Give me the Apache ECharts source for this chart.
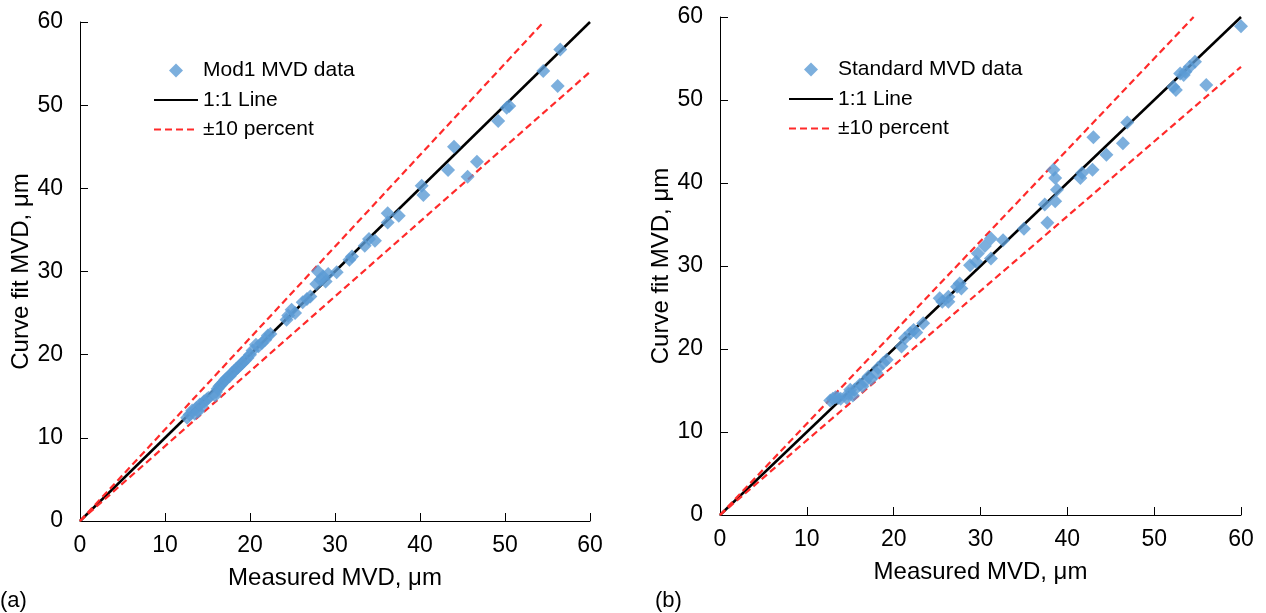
<!DOCTYPE html>
<html>
<head>
<meta charset="utf-8">
<script src="https://cdn.jsdelivr.net/npm/echarts@6/dist/echarts.min.js"></script>
<style>html,body{margin:0;padding:0;background:#fff}#c{width:1266px;height:613px}</style>
</head>
<body>
<div id="c"></div>
<script>
// ---- data ----
const xTicks = [0, 10, 20, 30, 40, 50, 60];
const axisMin = 0, axisMax = 60, axisStep = 10;
const xName = 'Measured MVD, μm';
const yName = 'Curve fit MVD, μm';
const panelLabels = ['(a)', '(b)'];
const seriesNameA = 'Mod1 MVD data';
const seriesNameB = 'Standard MVD data';
const lineName = '1:1 Line';
const bandName = '±10 percent';
const bandFactor = 0.10;

const mod1Data = [
  [12.6,12.4],[12.9,12.8],[13.2,13.3],[13.5,12.9],[13.7,13.6],[13.9,13.2],[14.1,14.0],[14.3,13.8],
  [14.6,14.4],[14.9,14.6],[15.1,14.8],[15.9,15.1],[16.0,15.5],[16.2,15.9],[16.4,16.2],[16.6,16.4],
  [16.9,16.7],[17.1,17.0],[17.3,17.2],[17.6,17.4],[17.9,17.8],[18.1,18.0],[18.4,18.3],[18.6,18.5],
  [18.9,18.8],[19.1,19.0],[19.4,19.3],[19.7,19.6],[20.0,20.0],[20.3,20.5],[20.7,21.2],[21.0,21.0],
  [21.4,21.4],[21.8,21.8],[22.1,22.3],[22.4,22.5],
  [24.3,24.2],[24.5,24.7],[24.9,25.4],[25.3,25.0],[26.2,26.3],[26.7,26.7],[27.1,27.0],[27.8,28.5],
  [28.0,30.0],[28.3,29.0],[28.6,29.4],[28.9,28.8],[29.2,29.7],[30.2,29.9],[31.7,31.4],[32.0,31.8],
  [33.5,33.1],[34.0,33.9],[34.7,33.7],[36.2,37.0],[36.2,35.9],[37.5,36.7],[40.2,40.3],[40.4,39.2],
  [43.3,42.2],[44.0,45.0],[45.6,41.4],[46.7,43.2],[49.2,48.1],[50.2,49.7],[50.5,49.9],[54.5,54.1],
  [56.2,52.3],[56.5,56.7]
];

const standardData = [
  [12.7,13.8],[13.0,14.0],[13.3,14.2],[13.6,14.1],[13.9,14.0],[14.6,14.1],[14.8,14.6],[15.0,15.1],
  [15.3,14.4],[15.5,15.1],[16.1,15.7],[16.4,15.5],[16.7,16.1],[17.1,16.7],[17.4,16.4],[18.0,17.1],
  [18.2,17.7],[18.8,18.3],[19.2,18.7],[20.9,20.3],[21.3,21.3],[21.9,21.9],[22.3,22.3],[22.6,22.0],
  [23.4,23.1],[25.3,26.1],[25.6,25.7],[26.3,26.3],[26.3,25.7],[27.3,27.5],[27.6,27.9],[27.8,27.3],
  [28.8,30.1],[29.5,30.5],[29.7,31.5],[30.5,32.4],[31.2,33.3],[31.2,30.9],[32.6,33.1],[35.0,34.5],
  [37.4,37.4],[37.7,35.2],[38.4,41.6],[38.6,40.6],[38.8,39.2],[38.6,37.8],[41.5,40.6],[41.7,41.2],
  [42.9,41.6],[43.0,45.5],[44.5,43.4],[46.4,44.8],[46.9,47.3],[52.2,51.6],[52.5,51.2],[53.0,53.2],
  [53.4,53.0],[53.6,53.4],[54.1,54.0],[54.7,54.6],[56.0,51.8],[60.0,58.9]
];

// ---- derived reference lines ----
const oneToOne = [[axisMin, axisMin], [axisMax, axisMax]];
const upperBand = [[axisMin, axisMin], [axisMax / (1 + bandFactor), axisMax]];
const lowerBand = [[axisMin, axisMin], [axisMax, axisMax * (1 - bandFactor)]];

const FONT = '"Liberation Sans", Arial, sans-serif';
const BLUE = '#5B9BD5';
const RED = '#FF2A2A';
const DIAMOND = 'path://M0,-1L1,0L0,1L-1,0Z';

function xAxisDef(i) {
  return {
    type: 'value', gridIndex: i, min: axisMin, max: axisMax, interval: axisStep,
    name: xName, nameLocation: 'middle', nameGap: 45,
    nameTextStyle: { fontSize: 24, color: '#000', fontFamily: FONT },
    axisLine: { show: true, onZero: false, lineStyle: { color: '#000', width: 1 } },
    axisTick: { show: true, inside: true, length: 8, lineStyle: { color: '#000', width: 1 } },
    axisLabel: { fontSize: 23, color: '#000', margin: 13, fontFamily: FONT,
      formatter: v => String(xTicks.includes(v) ? v : '') },
    splitLine: { show: false }
  };
}
function yAxisDef(i) {
  return {
    type: 'value', gridIndex: i, min: axisMin, max: axisMax, interval: axisStep,
    name: yName, nameLocation: 'middle', nameGap: 47,
    nameTextStyle: { fontSize: 24, color: '#000', fontFamily: FONT },
    axisLine: { show: true, onZero: false, lineStyle: { color: '#000', width: 1 } },
    axisTick: { show: true, inside: true, length: 8, lineStyle: { color: '#000', width: 1 } },
    axisLabel: { fontSize: 23, color: '#000', margin: 17, fontFamily: FONT },
    splitLine: { show: false }
  };
}
function panelSeries(i, name, data) {
  return [
    { name: lineName, type: 'line', xAxisIndex: i, yAxisIndex: i, data: oneToOne,
      symbol: 'none', silent: true, z: 2, lineStyle: { color: '#000', width: 2.5 }, itemStyle: { color: '#000' } },
    { name: bandName, type: 'line', xAxisIndex: i, yAxisIndex: i, data: upperBand,
      symbol: 'none', silent: true, z: 2, lineStyle: { color: RED, width: 2.2, type: [7, 4] }, itemStyle: { color: RED } },
    { name: bandName, type: 'line', xAxisIndex: i, yAxisIndex: i, data: lowerBand,
      symbol: 'none', silent: true, z: 2, lineStyle: { color: RED, width: 2.2, type: [7, 4] }, itemStyle: { color: RED } },
    { name: name, type: 'scatter', xAxisIndex: i, yAxisIndex: i, data: data,
      symbol: 'diamond', symbolSize: 14, z: 3, itemStyle: { color: BLUE } }
  ];
}
function legendDef(left, top, name) {
  return {
    orient: 'vertical', left: left, top: top, padding: 0,
    data: [
      { name: name, icon: DIAMOND },
      { name: lineName, itemStyle: { opacity: 0 } },
      { name: bandName, itemStyle: { opacity: 0 } }
    ],
    itemWidth: 44, itemHeight: 14, itemGap: 8.5, selectedMode: false, symbolKeepAspect: true,
    textStyle: { fontSize: 21, color: '#000', fontFamily: FONT }
  };
}

const chart = echarts.init(document.getElementById('c'), null, { renderer: 'canvas' });
chart.setOption({
  animation: false,
  backgroundColor: '#fff',
  grid: [
    { left: 80, top: 22, width: 510, height: 499 },
    { left: 720, top: 17, width: 521, height: 498 }
  ],
  xAxis: [xAxisDef(0), xAxisDef(1)],
  yAxis: [yAxisDef(0), yAxisDef(1)],
  legend: [legendDef(153, 60, seriesNameA), legendDef(788, 59, seriesNameB)],
  graphic: [
    { type: 'text', left: 0, top: 590, style: { text: panelLabels[0], fill: '#000', font: '22px ' + FONT } },
    { type: 'text', left: 655, top: 590, style: { text: panelLabels[1], fill: '#000', font: '22px ' + FONT } }
  ],
  series: [].concat(panelSeries(0, seriesNameA, mod1Data), panelSeries(1, seriesNameB, standardData))
});
</script>
</body>
</html>
